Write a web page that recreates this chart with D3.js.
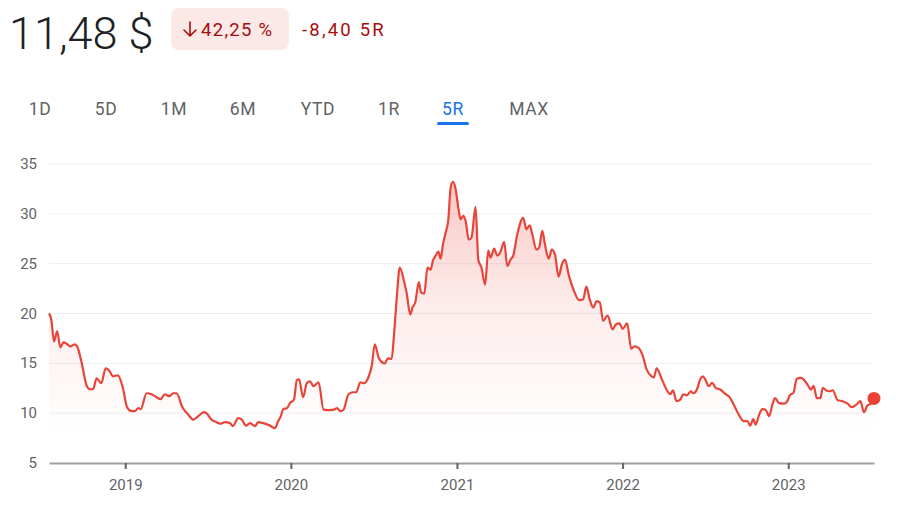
<!DOCTYPE html>
<html>
<head>
<meta charset="utf-8">
<script src="https://cdn.jsdelivr.net/npm/d3@7"></script>
<style>
  body { margin: 0; background: #fff; }
  svg { display: block; font-family: Roboto, 'Noto Sans', sans-serif; }
</style>
</head>
<body>
<div id="chart"></div>
<script>
// quote header
const price = '11,48 $'
const changePct = '42,25 %'
const changeAbs = '-8,40 5R'
const ranges = ['1D', '5D', '1M', '6M', 'YTD', '1R', '5R', 'MAX']
const activeRange = '5R'

// closing prices
const dates = [
  '2018-07-17', '2018-07-22', '2018-07-28', '2018-08-04', '2018-08-11', '2018-08-18', '2018-08-24',
  '2018-09-02', '2018-09-12', '2018-09-17', '2018-09-27', '2018-10-07', '2018-10-15', '2018-10-22',
  '2018-10-30', '2018-11-09', '2018-11-19', '2018-11-26', '2018-12-05', '2018-12-16', '2018-12-27',
  '2019-01-05', '2019-01-15', '2019-01-22', '2019-01-30', '2019-02-04', '2019-02-17', '2019-02-28',
  '2019-03-11', '2019-03-20', '2019-03-29', '2019-04-08', '2019-04-17', '2019-04-24', '2019-05-07',
  '2019-05-20', '2019-05-31', '2019-06-11', '2019-06-23', '2019-06-29', '2019-07-10', '2019-07-21',
  '2019-07-29', '2019-08-09', '2019-08-20', '2019-08-26', '2019-09-07', '2019-09-15', '2019-09-24',
  '2019-10-03', '2019-10-14', '2019-10-21', '2019-11-01', '2019-11-16', '2019-11-27', '2019-12-04',
  '2019-12-10', '2019-12-15', '2019-12-23', '2019-12-30',
  '2020-01-08', '2020-01-14', '2020-01-19', '2020-01-28', '2020-02-05', '2020-02-12', '2020-02-20',
  '2020-03-02', '2020-03-13', '2020-03-24', '2020-04-04', '2020-04-12', '2020-04-19', '2020-04-26',
  '2020-05-07', '2020-05-17', '2020-05-24', '2020-06-02', '2020-06-10', '2020-06-19', '2020-06-27',
  '2020-07-04', '2020-07-13', '2020-07-26', '2020-08-02', '2020-08-10', '2020-08-15', '2020-08-21',
  '2020-08-28', '2020-09-07', '2020-09-12', '2020-09-20', '2020-09-25', '2020-10-01', '2020-10-09',
  '2020-10-14', '2020-10-21', '2020-10-28', '2020-11-04', '2020-11-09', '2020-11-15', '2020-11-21',
  '2020-11-26', '2020-12-01', '2020-12-07', '2020-12-13', '2020-12-18', '2020-12-23', '2020-12-29',
  '2021-01-04', '2021-01-09', '2021-01-15', '2021-01-20', '2021-01-27', '2021-02-02', '2021-02-11',
  '2021-02-17', '2021-02-24', '2021-03-04', '2021-03-11', '2021-03-16', '2021-03-24', '2021-03-31',
  '2021-04-07', '2021-04-15', '2021-04-22', '2021-04-29', '2021-05-05', '2021-05-14', '2021-05-27',
  '2021-06-03', '2021-06-10', '2021-06-16', '2021-06-25', '2021-07-01', '2021-07-08', '2021-07-14',
  '2021-07-22', '2021-07-29', '2021-08-05', '2021-08-13', '2021-08-20', '2021-08-27', '2021-09-05',
  '2021-09-16', '2021-09-27', '2021-10-06', '2021-10-13', '2021-10-21', '2021-10-28', '2021-11-05',
  '2021-11-12', '2021-11-19', '2021-11-29', '2021-12-10', '2021-12-17', '2021-12-25',
  '2022-01-01', '2022-01-11', '2022-01-20', '2022-01-27', '2022-02-05', '2022-02-14', '2022-02-23',
  '2022-03-06', '2022-03-11', '2022-03-17', '2022-03-28', '2022-04-08', '2022-04-16', '2022-04-22',
  '2022-04-30', '2022-05-08', '2022-05-15', '2022-05-23', '2022-05-31', '2022-06-06', '2022-06-14',
  '2022-06-21', '2022-06-27', '2022-07-02', '2022-07-10', '2022-07-17', '2022-07-25', '2022-08-05',
  '2022-08-16', '2022-08-23', '2022-09-03', '2022-09-14', '2022-09-25', '2022-10-03', '2022-10-09',
  '2022-10-16', '2022-10-21', '2022-10-29', '2022-11-05', '2022-11-12', '2022-11-20', '2022-11-27',
  '2022-12-03', '2022-12-12', '2022-12-23', '2022-12-30',
  '2023-01-05', '2023-01-12', '2023-01-20', '2023-01-29', '2023-02-09', '2023-02-14', '2023-02-20',
  '2023-02-26', '2023-03-05', '2023-03-13', '2023-03-18', '2023-03-25', '2023-04-02', '2023-04-09',
  '2023-04-20', '2023-05-01', '2023-05-12', '2023-05-21', '2023-05-31', '2023-06-09', '2023-06-17',
  '2023-06-24', '2023-07-03', '2023-07-09'
]
const prices = [
  20.0, 19.4, 17.2, 18.2, 16.6, 17.1, 17.0,
  16.7, 16.9, 16.7, 15.05, 12.9, 12.4, 12.4,
  13.5, 13.0, 14.5, 14.3, 13.7, 13.8, 12.5,
  10.6, 10.2, 10.2, 10.5, 10.4, 12.0, 11.9,
  11.6, 11.4, 11.9, 11.7, 12.0, 12.0, 10.6,
  9.85, 9.35, 9.7, 10.1, 10.0, 9.35, 9.1,
  8.95, 9.1, 9.0, 8.7, 9.5, 9.35, 8.75,
  9.0, 8.7, 9.1, 9.0, 8.75, 8.5, 9.2,
  9.7, 10.4, 10.5, 11.0,
  11.4, 13.3, 13.4, 11.6, 13.0, 13.2, 12.7,
  13.1, 10.35, 10.3, 10.35, 10.5, 10.2, 10.35,
  11.9, 12.1, 12.1, 13.1, 13.0, 13.5, 14.7,
  16.9, 15.5, 15.0, 15.5, 15.45, 17.7, 21.4,
  24.6, 23.1, 22.1, 19.9, 20.6, 21.1, 23.15,
  22.1, 22.0, 24.6, 24.4, 25.3, 25.8, 26.2,
  25.5, 26.9, 28.1, 29.45, 32.6, 33.2, 32.5,
  30.6, 29.45, 29.8, 29.3, 27.4, 27.6, 30.7,
  25.4, 24.6, 22.9, 26.3, 25.6, 26.5, 25.8,
  26.2, 27.2, 24.75, 25.4, 25.8, 27.95, 29.6,
  28.45, 28.85, 27.95, 26.4, 26.6, 28.3, 26.9,
  25.5, 26.4, 25.9, 23.7, 24.9, 25.4, 23.75,
  22.25, 21.35, 21.4, 22.7, 21.35, 20.6, 21.25,
  21.1, 19.25, 19.8, 18.4, 18.9, 19.0,
  18.45, 19.0, 16.45, 16.7, 16.55, 15.8, 14.4,
  13.7, 13.6, 14.5, 13.45, 12.35, 11.9, 12.3,
  11.2, 11.35, 11.9, 11.8, 12.2, 12.0, 12.4,
  13.4, 13.7, 13.4, 12.7, 13.05, 12.55, 12.35,
  11.9, 11.7, 10.85, 9.85, 9.2, 9.2, 8.75,
  9.4, 8.85, 9.85, 10.4, 10.35, 9.7, 10.85,
  11.5, 11.0, 10.95, 11.2,
  11.85, 12.0, 13.45, 13.55, 13.1, 12.75, 12.35,
  12.75, 11.5, 11.5, 12.55, 12.3, 12.2, 12.3,
  11.3, 11.2, 10.95, 10.6, 10.85, 11.2, 10.1,
  10.75, 11.0, 11.48
]
const yTicks = [5, 10, 15, 20, 25, 30, 35]
const xTickYears = ['2019', '2020', '2021', '2022', '2023']

const lineColor = '#e8453a'
const W = 908, H = 512
const plot = {left: 49, right: 874, top: 164, bottom: 463}

const parse = d3.timeParse('%Y-%m-%d')
const data = dates.map((d, i) => ({date: parse(d), value: prices[i]}))

const svg = d3.select('#chart')
  .append('svg')
  .attr('width', W)
  .attr('height', H)

// header
svg.append('text')
  .text(price)
  .attr('x', 9)
  .attr('y', 49)
  .attr('font-size', '45px')
  .attr('font-weight', 300)
  .attr('fill', '#202124')

svg.append('rect')
  .attr('x', 171).attr('y', 8)
  .attr('width', 118).attr('height', 42)
  .attr('rx', 8)
  .attr('fill', '#fce8e6')

// down arrow
svg.append('path')
  .attr('d', 'M190,22 V36 M184,30 L190,36 L196,30')
  .attr('fill', 'none')
  .attr('stroke', '#a50e0e')
  .attr('stroke-width', 1.6)
  .attr('stroke-linecap', 'round')
  .attr('stroke-linejoin', 'round')

svg.append('text')
  .text(changePct)
  .attr('x', 201).attr('y', 36)
  .attr('font-size', '18.5px')
  .attr('letter-spacing', '1.3px')
  .attr('fill', '#a50e0e')

svg.append('text')
  .text(changeAbs)
  .attr('x', 302).attr('y', 36)
  .attr('font-size', '18.5px')
  .attr('letter-spacing', '2.2px')
  .attr('fill', '#a50e0e')

// range tabs
const tabPos = {'1D': 40, '5D': 106, '1M': 174, '6M': 243, 'YTD': 318, '1R': 389, '5R': 453, 'MAX': 529}
svg.append('g')
  .selectAll('text')
  .data(ranges)
  .enter()
  .append('text')
  .text(d => d)
  .attr('x', d => tabPos[d])
  .attr('y', 115)
  .attr('text-anchor', 'middle')
  .attr('font-size', '17.5px')
  .attr('letter-spacing', '0.6px')
  .attr('fill', d => d === activeRange ? '#1a73e8' : '#5f6368')

svg.append('rect')
  .attr('x', tabPos[activeRange] - 16).attr('y', 122)
  .attr('width', 32).attr('height', 3)
  .attr('rx', 1.5)
  .attr('fill', '#1a73e8')

// scales
const x = d3.scaleTime()
  .domain(d3.extent(data, d => d.date))
  .range([plot.left, plot.right])

const y = d3.scaleLinear()
  .domain([5, 35])
  .range([plot.bottom, plot.top])

// grid
svg.append('g')
  .selectAll('line')
  .data(yTicks.filter(t => t > 5))
  .enter()
  .append('line')
  .attr('x1', plot.left).attr('x2', plot.right - 2)
  .attr('y1', d => y(d)).attr('y2', d => y(d))
  .attr('stroke', '#eceff1')
  .attr('stroke-width', 1)

svg.append('g')
  .selectAll('text')
  .data(yTicks)
  .enter()
  .append('text')
  .text(d => d)
  .attr('x', 37)
  .attr('y', d => y(d) + 5)
  .attr('text-anchor', 'end')
  .attr('font-size', '15px')
  .attr('fill', '#5f6368')

// area fill
const defs = svg.append('defs')
const grad = defs.append('linearGradient')
  .attr('id', 'fade')
  .attr('gradientUnits', 'userSpaceOnUse')
  .attr('x1', 0).attr('x2', 0)
  .attr('y1', y(33.5)).attr('y2', y(8))
grad.append('stop').attr('offset', 0).attr('stop-color', lineColor).attr('stop-opacity', 0.3)
grad.append('stop').attr('offset', 0.5).attr('stop-color', lineColor).attr('stop-opacity', 0.1)
grad.append('stop').attr('offset', 1).attr('stop-color', lineColor).attr('stop-opacity', 0)

const area = d3.area()
  .x(d => x(d.date))
  .y0(plot.bottom)
  .y1(d => y(d.value))
  .curve(d3.curveMonotoneX)

svg.append('path')
  .datum(data)
  .attr('d', area)
  .attr('fill', 'url(#fade)')

// x axis
const xAxis = d3.axisBottom(x)
  .tickValues(xTickYears.map(yr => parse(yr + '-01-01')))
  .tickFormat(d3.timeFormat('%Y'))
  .tickSize(6)
  .tickSizeOuter(0)

const gx = svg.append('g')
  .attr('transform', `translate(0,${plot.bottom})`)
  .call(xAxis)
gx.select('.domain').attr('stroke', '#9aa0a6').attr('stroke-width', 2)
gx.selectAll('.tick line').attr('stroke', '#5f6368').attr('stroke-width', 2)
gx.selectAll('.tick text')
  .attr('font-size', '15px')
  .attr('font-family', 'Roboto, sans-serif')
  .attr('fill', '#5f6368')
  .attr('dy', '1.2em')

// price line
const line = d3.line()
  .x(d => x(d.date))
  .y(d => y(d.value))
  .curve(d3.curveMonotoneX)

svg.append('path')
  .datum(data)
  .attr('d', line)
  .attr('fill', 'none')
  .attr('stroke', lineColor)
  .attr('stroke-width', 2.2)
  .attr('stroke-linejoin', 'round')

const last = data[data.length - 1]
svg.append('circle')
  .attr('cx', x(last.date))
  .attr('cy', y(last.value))
  .attr('r', 6.5)
  .attr('fill', '#ea4335')
</script>
</body>
</html>
